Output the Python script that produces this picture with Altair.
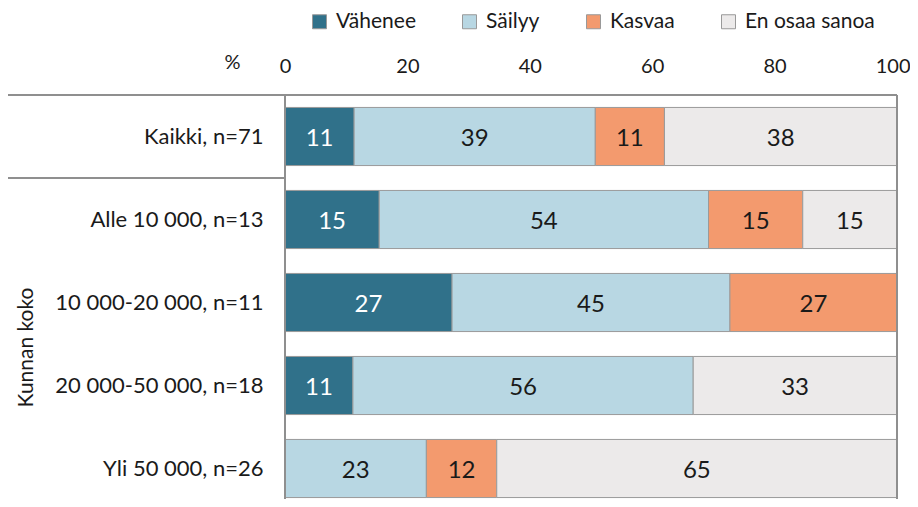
import altair as alt
import pandas as pd

groups = ["Kaikki, n=71", "Alle 10 000, n=13", "10 000-20 000, n=11",
          "20 000-50 000, n=18", "Yli 50 000, n=26"]
categories = ["Vähenee", "Säilyy", "Kasvaa", "En osaa sanoa"]
vahenee = [11.3, 15.4, 27.3, 11.1, 0.0]
sailyy = [39.4, 53.8, 45.4, 55.6, 23.1]
kasvaa = [11.3, 15.4, 27.3, 0.0, 11.5]
eos = [38.0, 15.4, 0.0, 33.3, 65.4]
x_ticks = [0, 20, 40, 60, 80, 100]
colors = ["#30718A", "#B8D7E3", "#F39A6E", "#ECEAEA"]

series = [vahenee, sailyy, kasvaa, eos]
rows = []
for ci, (cat, vals) in enumerate(zip(categories, series)):
    for g, v in zip(groups, vals):
        if v > 0:
            rows.append({"group": g, "category": cat, "order": ci, "value": v})
df = pd.DataFrame(rows)

FONT = "Lato"
TXT = "#1a1a1a"
LINE = "#8f8f8f"

y_enc = alt.Y("group:N", sort=groups,
              scale=alt.Scale(range=[0, 415], paddingInner=0.3, paddingOuter=0.15),
              axis=alt.Axis(title="Kunnan koko", ticks=False, domain=False, grid=False,
                            labelFontSize=22, labelFont=FONT, labelColor=TXT,
                            labelPadding=22, labelLimit=300,
                            titleAngle=270, titleX=-259, titleY=252,
                            titleAlign="center", titleBaseline="middle",
                            titleFontWeight="normal", titleFontSize=21,
                            titleFont=FONT, titleColor=TXT))

base = alt.Chart(df).transform_stack(
    stack="value", as_=["x0", "x1"], groupby=["group"],
    sort=[alt.SortField("order", order="ascending")]
).transform_calculate(mid="(datum.x0 + datum.x1) / 2")

x_scale = alt.Scale(domain=[0, 100], nice=False)

bars = base.mark_bar(stroke="#9a9a9a", strokeWidth=1).encode(
    y=y_enc,
    x=alt.X("x0:Q", scale=x_scale,
            axis=alt.Axis(orient="top", values=x_ticks, ticks=False, domain=False,
                          grid=False, labelFlush=False, labelOverlap=False,
                          labelAlign={"condition": {"test": "datum.value == 100",
                                                    "value": "right"},
                                      "value": "center"},
                          labelOffset={"condition": {"test": "datum.value == 100",
                                                     "value": 13},
                                       "value": 0},
                          labelFontSize=20, labelFont=FONT, labelColor=TXT,
                          labelPadding=19,
                          title="%", titleX=-53, titleY=-33, titleAlign="center",
                          titleBaseline="middle", titleFontWeight="normal",
                          titleFontSize=20, titleFont=FONT, titleColor=TXT)),
    x2="x1:Q",
    color=alt.Color("category:N", sort=categories,
                    scale=alt.Scale(domain=categories, range=colors),
                    legend=alt.Legend(orient="none", legendX=24, legendY=-84,
                                      direction="horizontal", title=None,
                                      symbolType="square", symbolSize=196,
                                      symbolStrokeColor="#999999", symbolStrokeWidth=1,
                                      symbolOpacity=1,
                                      labelFontSize=21, labelFont=FONT, labelColor=TXT,
                                      columnPadding=43, labelOffset=6, padding=0)),
    order=alt.Order("order:Q"),
)

labels = base.mark_text(fontSize=24, font=FONT, baseline="middle", align="center",
                        dy=2).encode(
    y=alt.Y("group:N", sort=groups),
    x=alt.X("mid:Q", scale=x_scale),
    text=alt.Text("value:Q", format=".0f"),
    color=alt.condition(alt.datum.category == "Vähenee",
                        alt.value("#ffffff"), alt.value(TXT)),
)

top_line = alt.Chart(df).mark_rule(color=LINE, strokeWidth=1.5).encode(
    x=alt.value(-280), x2=alt.value(612), y=alt.value(0))
sep_line = alt.Chart(df).mark_rule(color=LINE, strokeWidth=1.5).encode(
    x=alt.value(-280), x2=alt.value(0), y=alt.value(83))
left_line = alt.Chart(df).mark_rule(color=LINE, strokeWidth=1.5).encode(
    x=alt.value(0), y=alt.value(0), y2=alt.value(420))
right_line = alt.Chart(df).mark_rule(color=LINE, strokeWidth=1.5).encode(
    x=alt.value(612), y=alt.value(0), y2=alt.value(420))

chart = alt.layer(bars, labels, top_line, sep_line, left_line, right_line).properties(
    width=612, height=404,
    padding={"left": 277, "top": 87, "right": 13, "bottom": 0},
    autosize=alt.AutoSizeParams(type="none"),
    background="white",
).configure_view(stroke=None)

chart.save("out.html", embed_options={"renderer": "svg", "actions": False})
